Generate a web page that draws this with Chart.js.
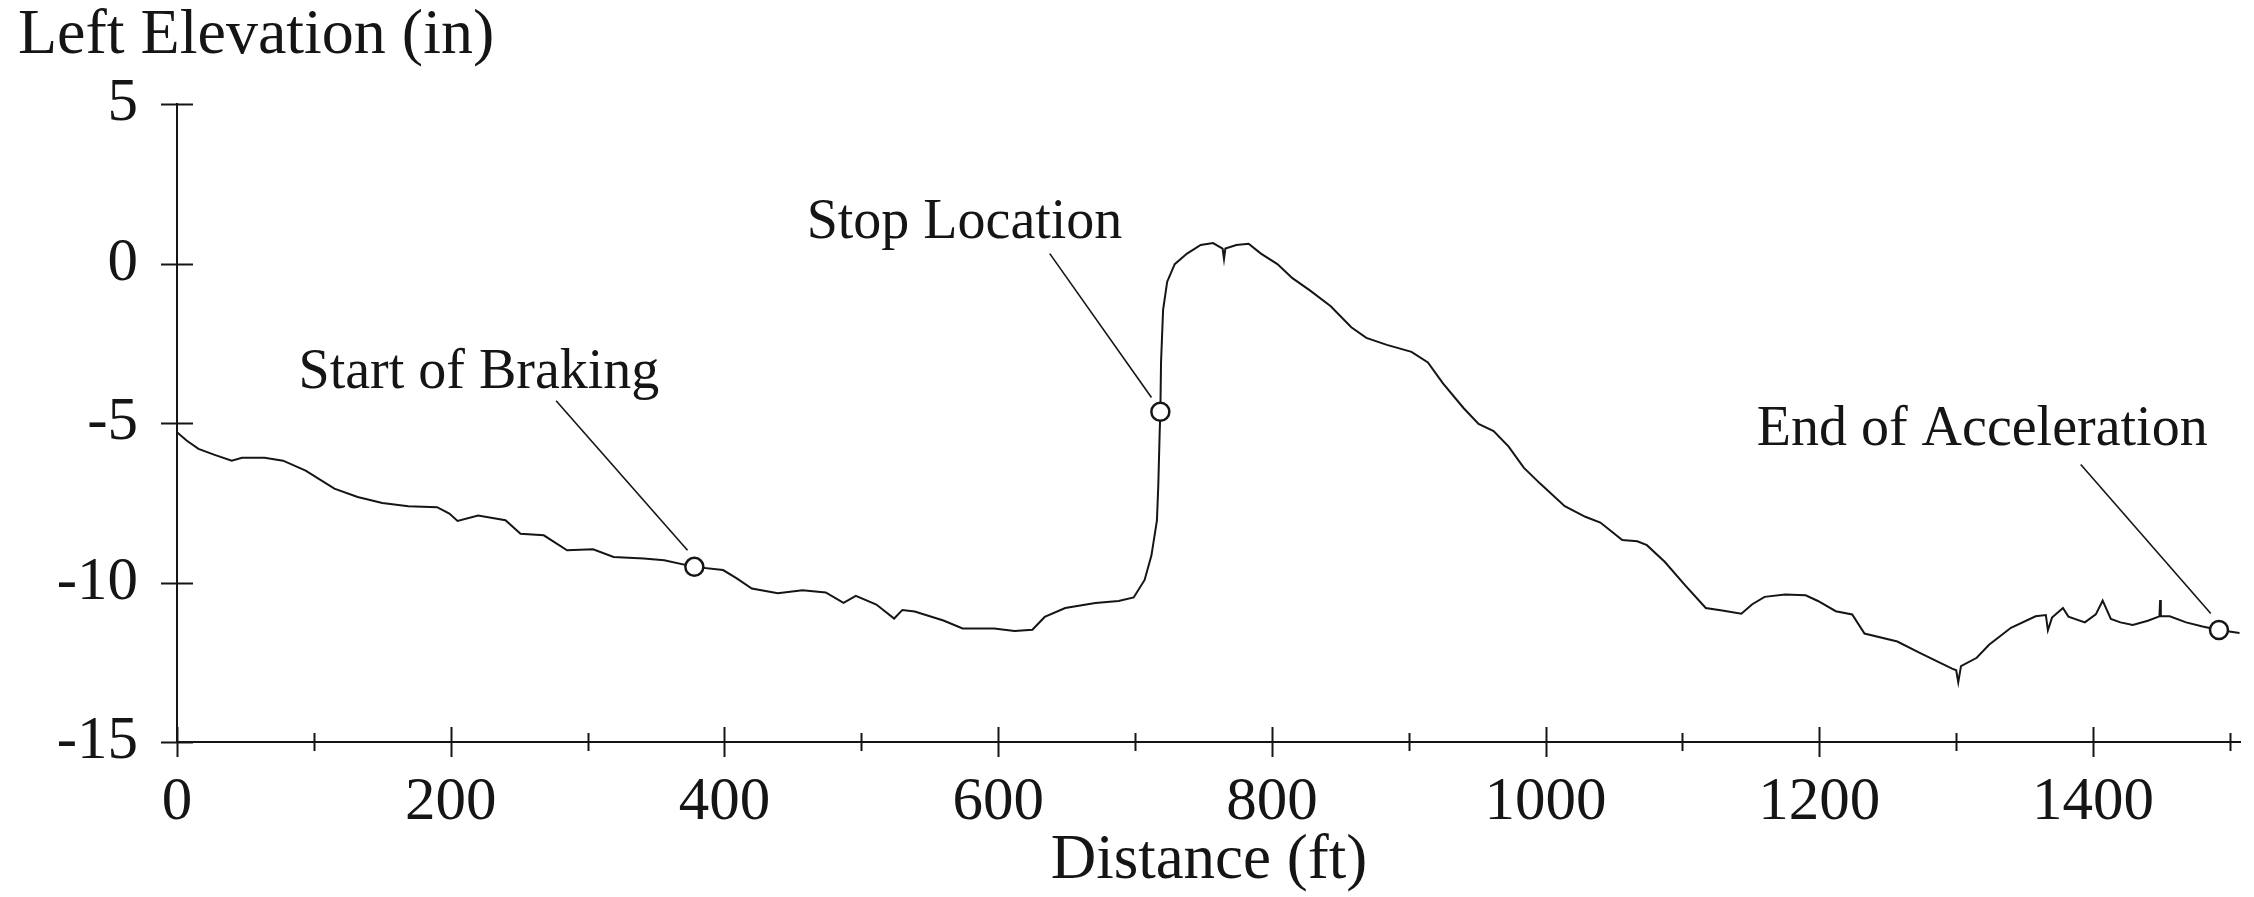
<!DOCTYPE html>
<html>
<head>
<meta charset="utf-8">
<script src="https://cdn.jsdelivr.net/npm/chart.js@4.4.1/dist/chart.umd.min.js"></script>
<style>
  html, body { margin: 0; padding: 0; background: #fff; }
  #wrap { width: 2254px; height: 897px; }
</style>
</head>
<body>
<div id="wrap"><canvas id="grafica" width="2254" height="897"></canvas></div>
<script>
const distancia = [
  0, 7, 15.7, 27, 40, 47.5, 64, 77.5, 94, 115, 132, 150, 169, 190, 199, 205, 220, 240, 251, 268,
  285, 304, 319, 341, 356, 378, 399, 409, 420, 439, 457, 474, 487, 496, 511, 524, 530, 539, 560, 574,
  597, 612, 625, 634, 649, 671, 688, 699, 707, 712, 716, 717, 718, 718.5, 719, 720.5, 723.5, 729, 738, 748,
  757, 764, 765, 766, 774, 783, 792, 804, 815, 828, 843, 858, 869, 884, 902, 914, 925, 940, 951, 962,
  973, 984, 996, 1014, 1029, 1040, 1056, 1067, 1074, 1087, 1102, 1117, 1129, 1143, 1151, 1160, 1175, 1190, 1199, 1212,
  1224, 1233, 1257, 1273, 1285, 1297, 1300, 1301.5, 1303.5, 1315, 1324, 1340, 1358, 1365.5, 1367, 1370, 1378, 1382, 1394, 1402,
  1407, 1413, 1420, 1429, 1440, 1448.5, 1449, 1449.5, 1456, 1468, 1480, 1492, 1507
];
const elevacion = [
  -5.29, -5.55, -5.81, -5.99, -6.18, -6.09, -6.09, -6.18, -6.49, -7.06, -7.32, -7.51, -7.61, -7.64, -7.84, -8.07, -7.90, -8.05, -8.47, -8.52,
  -8.99, -8.96, -9.20, -9.25, -9.30, -9.51, -9.61, -9.87, -10.19, -10.34, -10.24, -10.31, -10.64, -10.42, -10.69, -11.13, -10.86, -10.91, -11.19, -11.44,
  -11.44, -11.52, -11.48, -11.08, -10.80, -10.64, -10.58, -10.47, -9.92, -9.15, -8.05, -6.95, -5.30, -4.65, -3.10, -1.45, -0.57, -0.02, 0.31, 0.58,
  0.64, 0.47, 0.14, 0.47, 0.58, 0.62, 0.31, -0.02, -0.46, -0.85, -1.34, -2.00, -2.33, -2.55, -2.77, -3.10, -3.76, -4.53, -5.03, -5.25,
  -5.74, -6.40, -6.90, -7.61, -7.94, -8.12, -8.67, -8.71, -8.83, -9.35, -10.09, -10.80, -10.88, -10.98, -10.68, -10.45, -10.38, -10.40, -10.58, -10.90,
  -11.00, -11.60, -11.85, -12.20, -12.45, -12.70, -12.75, -13.13, -12.62, -12.36, -11.95, -11.42, -11.06, -11.02, -11.50, -11.10, -10.80, -11.07, -11.25, -11.00,
  -10.57, -11.14, -11.25, -11.33, -11.20, -11.06, -10.55, -11.06, -11.06, -11.25, -11.38, -11.49, -11.58
];

// puntos marcados y sus notas
const marcaX = [378, 718.5, 1492];
const marcaY = [-9.51, -4.65, -11.49];
const notas = ["Start of Braking", "Stop Location", "End of Acceleration"];
const notaX = [220.6, 575.4, 1319];
const notaY = [-3.9, 0.8, -5.7];
const guiaX1 = [277, 637.7, 1391];
const guiaY1 = [-4.3, 0.31, -6.3];
const guiaX2 = [373, 712, 1486];
const guiaY2 = [-8.99, -4.2, -10.97];

const ticksX = [0, 100, 200, 300, 400, 500, 600, 700, 800, 900, 1000, 1100, 1200, 1300, 1400, 1500];
const ticksY = [-15, -10, -5, 0, 5];

const fuente = "'Liberation Serif', 'Times New Roman', serif";
const tinta = "#151515";

const ejes = {
  id: "ejes",
  beforeDatasetsDraw(chart) {
    const ctx = chart.ctx;
    const x = chart.scales.x, y = chart.scales.y;
    ctx.save();
    ctx.strokeStyle = tinta;
    ctx.lineWidth = 1.6;
    notas.forEach((n, i) => {
      ctx.beginPath();
      ctx.moveTo(x.getPixelForValue(guiaX1[i]), y.getPixelForValue(guiaY1[i]));
      ctx.lineTo(x.getPixelForValue(guiaX2[i]), y.getPixelForValue(guiaY2[i]));
      ctx.stroke();
    });
    ctx.restore();
  },
  afterDraw(chart) {
    const ctx = chart.ctx;
    const x = chart.scales.x, y = chart.scales.y;
    const area = chart.chartArea;
    ctx.save();
    ctx.strokeStyle = tinta;
    ctx.lineWidth = 2;
    ticksX.forEach(v => {
      const px = Math.round(x.getPixelForValue(v)) + 0.5;
      const largo = v % 200 === 0 ? 15 : 9;
      ctx.beginPath();
      ctx.moveTo(px, area.bottom - largo);
      ctx.lineTo(px, area.bottom + largo);
      ctx.stroke();
    });
    ticksY.forEach(v => {
      const py = Math.round(y.getPixelForValue(v)) + 0.5;
      ctx.beginPath();
      ctx.moveTo(area.left - 16, py);
      ctx.lineTo(area.left + 16, py);
      ctx.stroke();
    });

    ctx.fillStyle = tinta;
    ctx.textBaseline = "alphabetic";
    ctx.textAlign = "left";
    ctx.font = "64px " + fuente;
    ctx.fillText("Left Elevation (in)", 18, 53);

    ctx.textAlign = "center";
    ctx.font = "56px " + fuente;
    notas.forEach((n, i) => {
      ctx.fillText(n, x.getPixelForValue(notaX[i]), y.getPixelForValue(notaY[i]));
    });
    ctx.restore();
  }
};

const ctx = document.getElementById("grafica").getContext("2d");
new Chart(ctx, {
  type: "line",
  data: {
    datasets: [
      {
        data: marcaX.map((v, i) => ({ x: v, y: marcaY[i] })),
        showLine: false,
        pointRadius: 9,
        pointBackgroundColor: "#ffffff",
        pointBorderColor: tinta,
        pointBorderWidth: 2.5
      },
      {
        data: distancia.map((v, i) => ({ x: v, y: elevacion[i] })),
        borderColor: tinta,
        borderWidth: 2,
        pointRadius: 0,
        tension: 0,
        fill: false
      }
    ]
  },
  options: {
    responsive: false,
    animation: false,
    layout: { padding: { top: 104, right: 13, left: 0, bottom: 0 } },
    plugins: { legend: { display: false }, tooltip: { enabled: false } },
    scales: {
      x: {
        type: "linear",
        min: 0,
        max: 1508,
        afterBuildTicks: s => { s.ticks = ticksX.map(v => ({ value: v })); },
        afterFit: s => { s.height = 155; },
        grid: { display: false, drawTicks: false, tickLength: 0 },
        border: { display: true, color: tinta, width: 2 },
        ticks: {
          autoSkip: false,
          maxRotation: 0,
          minRotation: 0,
          padding: 24,
          color: tinta,
          font: { family: fuente, size: 61, lineHeight: 1.2 },
          callback: v => (v % 200 === 0 ? String(v) : "")
        },
        title: {
          display: true,
          text: "Distance (ft)",
          color: tinta,
          font: { family: fuente, size: 63, lineHeight: 1 },
          padding: { top: 0, bottom: 4 }
        }
      },
      y: {
        min: -15,
        max: 5,
        afterBuildTicks: s => { s.ticks = ticksY.map(v => ({ value: v })); },
        afterFit: s => { s.width = 177; },
        grid: { display: false, drawTicks: false, tickLength: 0 },
        border: { display: true, color: tinta, width: 2 },
        ticks: {
          padding: 39,
          color: tinta,
          font: { family: fuente, size: 61, lineHeight: 1.2 }
        }
      }
    }
  },
  plugins: [ejes]
});
</script>
</body>
</html>
